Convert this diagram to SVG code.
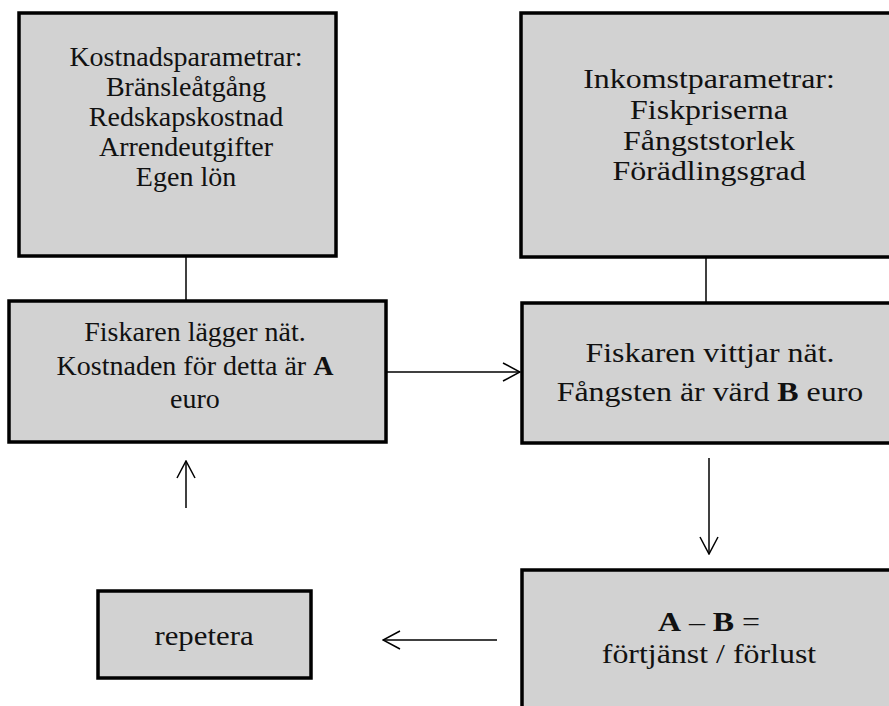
<svg xmlns="http://www.w3.org/2000/svg" width="889" height="706" viewBox="0 0 889 706">
<style>
.box{fill:#d2d2d2;stroke:#000;stroke-width:3.5}
text{font-family:"Liberation Serif","Times New Roman",serif;font-size:28px;fill:#111;text-anchor:middle}
.line{stroke:#000;stroke-width:1.5;fill:none}
</style>
<defs>
<marker id="arr" viewBox="0 0 20 20" refX="19" refY="10" markerWidth="20" markerHeight="20" markerUnits="userSpaceOnUse" orient="auto">
<path d="M2,1 L19,10 L2,19" fill="none" stroke="#000" stroke-width="1.5"/>
</marker>
</defs>
<rect width="889" height="706" fill="#fff"/>
<g id="connectors">
<line class="line" x1="186" y1="256" x2="186" y2="300"/>
<line class="line" x1="706" y1="257" x2="706" y2="302"/>
<line class="line" x1="387" y1="372" x2="520" y2="372" marker-end="url(#arr)"/>
<line class="line" x1="709" y1="458" x2="709" y2="554" marker-end="url(#arr)"/>
<line class="line" x1="497" y1="640" x2="383" y2="640" marker-end="url(#arr)"/>
<line class="line" x1="186" y1="508" x2="186" y2="461" marker-end="url(#arr)"/>
</g>
<g id="kostnad">
<rect class="box" x="19" y="13" width="317" height="243"/>
<text x="186" y="66">Kostnadsparametrar:</text>
<text x="186" y="96">Bränsleåtgång</text>
<text x="186" y="126">Redskapskostnad</text>
<text x="186" y="156">Arrendeutgifter</text>
<text x="186" y="186">Egen lön</text>
</g>
<g id="inkomst">
<rect class="box" x="521" y="13" width="380" height="244"/>
<g transform="matrix(1.14 0 0 1 709 0)">
<text x="0" y="88">Inkomstparametrar:</text>
<text x="0" y="119">Fiskpriserna</text>
<text x="0" y="150">Fångststorlek</text>
<text x="0" y="180">Förädlingsgrad</text>
</g>
</g>
<g id="lagger">
<rect class="box" x="9" y="301" width="377" height="141"/>
<text x="195" y="341">Fiskaren lägger nät.</text>
<text x="195" y="375">Kostnaden för detta är <tspan font-weight="bold">A</tspan></text>
<text x="195" y="408">euro</text>
</g>
<g id="vittjar">
<rect class="box" x="522" y="303" width="380" height="140"/>
<g transform="matrix(1.14 0 0 1 710 0)">
<text x="0" y="362">Fiskaren vittjar nät.</text>
<text x="0" y="401">Fångsten är värd <tspan font-weight="bold">B</tspan> euro</text>
</g>
</g>
<g id="resultat">
<rect class="box" x="522" y="570" width="380" height="150"/>
<g transform="matrix(1.14 0 0 1 709 0)">
<text x="0" y="631"><tspan font-weight="bold">A</tspan> – <tspan font-weight="bold">B</tspan> =</text>
<text x="0" y="663">förtjänst / förlust</text>
</g>
</g>
<g id="repetera">
<rect class="box" x="98" y="591" width="213" height="87"/>
<text x="0" y="645" transform="matrix(1.1 0 0 1 204 0)">repetera</text>
</g>
</svg>
